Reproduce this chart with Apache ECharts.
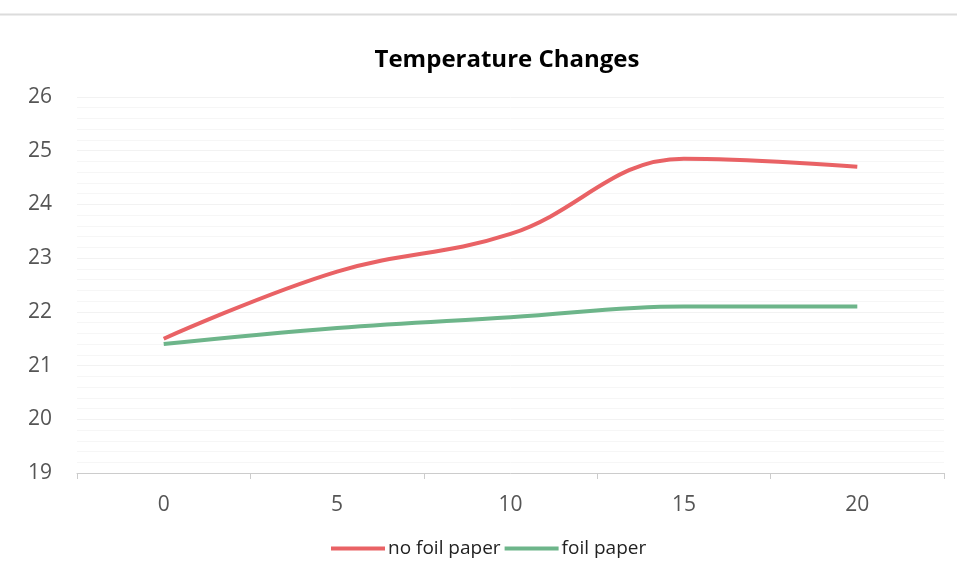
<!DOCTYPE html>
<html><head><meta charset="utf-8">
<script src="https://cdn.jsdelivr.net/npm/echarts@6/dist/echarts.min.js"></script>
<style>html,body{margin:0;padding:0;background:#fff}#c{width:957px;height:582px}</style>
</head><body><div id="c"></div>
<script>
const categories = ['0', '5', '10', '15', '20'];
const noFoil = [21.5, 22.75, 23.45, 24.85, 24.7];
const foil = [21.4, 21.7, 21.9, 22.1, 22.1];
const seriesNames = ['no foil paper', 'foil paper'];

const chart = echarts.init(document.getElementById('c'));
chart.setOption({
  animation: false,
  graphic: [{type: 'line', shape: {x1: 0, y1: 14.5, x2: 957, y2: 14.5}, style: {stroke: '#dcdcdc', lineWidth: 2}}],
  title: {text: 'Temperature Changes', left: 502, textAlign: 'center', top: 43,
    textStyle: {fontFamily: 'Open Sans', fontWeight: 'bold', fontSize: 24, color: '#000'}},
  legend: {bottom: 19, left: 326, itemGap: 4, itemWidth: 54, itemHeight: 4, icon: 'rect',
    textStyle: {fontFamily: 'Open Sans', fontSize: 19, color: '#222', padding: [0, 0, 0, -2]},
    data: seriesNames},
  grid: {left: 77, right: 13, top: 97, bottom: 109},
  xAxis: {type: 'category', data: categories, boundaryGap: true,
    axisLine: {lineStyle: {color: '#cccccc'}},
    axisTick: {show: true, length: 6, lineStyle: {color: '#cccccc'}},
    axisLabel: {fontFamily: 'Open Sans', fontSize: 21, color: '#555', margin: 22}},
  yAxis: {type: 'value', min: 19, max: 26, interval: 1,
    axisLine: {show: false}, axisTick: {show: false},
    axisLabel: {fontFamily: 'Open Sans', fontSize: 21, color: '#555', margin: 25},
    splitLine: {lineStyle: {color: '#f2f2f2'}},
    minorTick: {show: false, splitNumber: 5},
    minorSplitLine: {show: true, lineStyle: {color: '#f6f6f6'}}},
  series: [
    {name: seriesNames[0], type: 'line', data: noFoil, smooth: 0.4, showSymbol: false,
      lineStyle: {width: 4, color: '#e96265'}, itemStyle: {color: '#e96265'}},
    {name: seriesNames[1], type: 'line', data: foil, smooth: 0.4, showSymbol: false,
      lineStyle: {width: 4, color: '#6db58a'}, itemStyle: {color: '#6db58a'}}
  ]
});
</script></body></html>
